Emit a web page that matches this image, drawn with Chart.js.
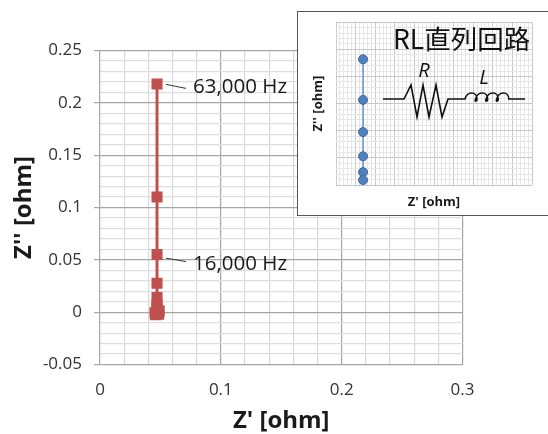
<!DOCTYPE html>
<html>
<head>
<meta charset="utf-8">
<script src="https://cdn.jsdelivr.net/npm/chart.js@4/dist/chart.umd.min.js"></script>
<style>
    html, body { margin: 0; padding: 0; background: #fff; overflow: hidden; }
    #wrap { position: relative; width: 548px; height: 434px; overflow: hidden; }
    #main-box { position: absolute; left: 0; top: 0; width: 548px; height: 434px; }
    #inset-box { position: absolute; left: 297px; top: 11px; width: 260px; height: 203px; background: #fff; border: 1.5px solid #555; box-sizing: content-box; }
    #inset-canvas-box { position: absolute; left: 0; top: 0; width: 251px; height: 203px; }
</style>
</head>
<body>
<div id="wrap">
    <div id="main-box"><canvas id="main-chart"></canvas></div>
    <div id="inset-box"><div id="inset-canvas-box"><canvas id="inset-chart"></canvas></div></div>
</div>
<script>
// measured impedance, main plot
const mainX = [0.0472, 0.0472, 0.0472, 0.0472, 0.0472, 0.0472, 0.0470, 0.0475, 0.0490, 0.0455, 0.0485, 0.0460];
const mainY = [0.218, 0.110, 0.055, 0.0277, 0.0141, 0.0072, 0.0037, 0.0020, 0.0010, -0.0005, -0.0020, -0.0025];
const mainXTicks = [0, 0.1, 0.2, 0.3];
const mainYTicks = [-0.05, 0, 0.05, 0.1, 0.15, 0.2, 0.25];
const noteIndexes = [0, 2];
const noteTexts = ['63,000 Hz', '16,000 Hz'];

// inset has no tick labels, values are only relative
const insetX = [0.138, 0.138, 0.138, 0.138, 0.138, 0.138];
const insetY = [0.1816, 0.1068, 0.0475, 0.0029, -0.0263, -0.0409];

const FONT = '"Open Sans", "Noto Sans", sans-serif';
const isMajor = (v, step) => Math.abs(v / step - Math.round(v / step)) < 1e-6;

function points(xs, ys) {
    return xs.map((x, i) => ({ x: x, y: ys[i] }));
}

// leader lines and frequency notes next to the points
const noteOffsets = [
    { lineFrom: 0.4, lineTo: 4.4, text: 3 },
    { lineFrom: 3.6, lineTo: 7, text: 9.5 }
];
const notesPlugin = {
    id: 'notes',
    afterDatasetsDraw(chart) {
        const ctx = chart.ctx;
        ctx.save();
        ctx.font = '20.5px ' + FONT;
        ctx.fillStyle = '#1a1a1a';
        ctx.textBaseline = 'middle';
        noteIndexes.forEach((idx, i) => {
            const px = chart.scales.x.getPixelForValue(mainX[idx]);
            const py = chart.scales.y.getPixelForValue(mainY[idx]);
            const off = noteOffsets[i];
            ctx.strokeStyle = '#333';
            ctx.lineWidth = 1;
            ctx.beginPath();
            ctx.moveTo(px + 9, py + off.lineFrom);
            ctx.lineTo(px + 29, py + off.lineTo);
            ctx.stroke();
            ctx.fillText(noteTexts[i], px + 36, py + off.text);
        });
        ctx.restore();
    }
};

new Chart(document.getElementById('main-chart'), {
    type: 'scatter',
    data: {
        datasets: [{
            data: points(mainX, mainY),
            showLine: true,
            borderColor: '#c0504d',
            borderWidth: 3,
            backgroundColor: '#c0504d',
            pointStyle: 'rect',
            pointRadius: 7.8,
            pointHoverRadius: 7.8,
            pointBorderWidth: 0
        }]
    },
    options: {
        responsive: true,
        maintainAspectRatio: false,
        animation: false,
        layout: { padding: { left: 0, right: 85.5, top: 50.5, bottom: 0 } },
        plugins: { legend: { display: false }, tooltip: { enabled: false } },
        scales: {
            x: {
                type: 'linear',
                min: 0,
                max: 0.3,
                afterFit(scale) { scale.height = 69.5; },
                title: {
                    display: true,
                    text: "Z' [ohm]",
                    color: '#1a1a1a',
                    font: { family: FONT, size: 24, weight: 'bold' },
                    padding: { top: 0, bottom: -2 }
                },
                border: { display: false },
                grid: {
                    drawTicks: false,
                    color: c => isMajor(c.tick.value, 0.1) ? '#a6a6a6' : '#d9d9d9',
                    lineWidth: 1.2
                },
                ticks: {
                    stepSize: 0.02,
                    autoSkip: false,
                    maxRotation: 0,
                    padding: 15,
                    color: '#333',
                    font: { family: FONT, size: 17 },
                    callback: v => {
                        const t = mainXTicks.find(m => Math.abs(m - v) < 1e-6);
                        return t === undefined ? '' : String(t);
                    }
                }
            },
            y: {
                type: 'linear',
                min: -0.05,
                max: 0.25,
                afterFit(scale) { scale.width = 100; },
                title: {
                    display: true,
                    text: "Z'' [ohm]",
                    color: '#1a1a1a',
                    font: { family: FONT, size: 24, weight: 'bold' },
                    padding: { top: 10, bottom: 0 }
                },
                border: { display: false },
                grid: {
                    tickLength: 6,
                    color: c => isMajor(c.tick.value, 0.05) ? '#a6a6a6' : '#dedede',
                    tickColor: c => isMajor(c.tick.value, 0.05) ? '#a6a6a6' : 'rgba(0,0,0,0)',
                    lineWidth: 1.2
                },
                ticks: {
                    stepSize: 0.01,
                    autoSkip: false,
                    padding: 12,
                    color: '#333',
                    font: { family: FONT, size: 17 },
                    callback: v => {
                        const t = mainYTicks.find(m => Math.abs(m - v) < 1e-6);
                        return t === undefined ? '' : String(t);
                    }
                }
            }
        }
    },
    plugins: [notesPlugin]
});

// circuit sketch and heading inside the inset, canvas pixels
const circuitPlugin = {
    id: 'circuit',
    afterDatasetsDraw(chart) {
        const ctx = chart.ctx;
        ctx.save();
        ctx.fillStyle = '#111';
        ctx.textAlign = 'left';
        ctx.textBaseline = 'middle';
        ctx.font = '26.5px "Noto Sans CJK JP", sans-serif';
        ctx.fillText('RL直列回路', 95, 27);

        ctx.textAlign = 'center';
        ctx.font = 'italic 20px ' + FONT;
        ctx.fillText('R', 126, 59);
        ctx.fillText('L', 186, 66);

        ctx.strokeStyle = '#111';
        ctx.lineWidth = 1.6;
        ctx.lineJoin = 'miter';
        ctx.beginPath();
        ctx.moveTo(85, 87);
        ctx.lineTo(106, 87);
        [[113, 73], [119, 105], [125, 73], [131, 105], [138, 73], [144, 105], [150, 87], [167, 87]]
            .forEach(p => ctx.lineTo(p[0], p[1]));
        // four coil humps
        for (let i = 0; i < 4; i++) {
            const x0 = 167 + i * 10.6;
            ctx.bezierCurveTo(x0 + 2, 79, x0 + 12, 79, x0 + 12, 87);
            if (i < 3) ctx.bezierCurveTo(x0 + 12, 90, x0 + 9, 90, x0 + 10.6, 87);
        }
        ctx.lineTo(227, 87);
        ctx.stroke();
        ctx.restore();
    }
};

new Chart(document.getElementById('inset-chart'), {
    type: 'scatter',
    data: {
        datasets: [{
            data: points(insetX, insetY),
            showLine: true,
            borderColor: '#6d97cb',
            borderWidth: 1.6,
            backgroundColor: '#4f81bd',
            pointStyle: 'circle',
            pointRadius: 4.5,
            pointHoverRadius: 4.5,
            pointBorderColor: '#3a6ba5',
            pointBorderWidth: 1
        }]
    },
    options: {
        responsive: true,
        maintainAspectRatio: false,
        animation: false,
        layout: { padding: { left: 0, right: 17, top: 8, bottom: 0 } },
        plugins: { legend: { display: false }, tooltip: { enabled: false } },
        scales: {
            x: {
                type: 'linear',
                min: 0,
                max: 1,
                afterFit(scale) { scale.height = 30; },
                title: {
                    display: true,
                    text: "Z' [ohm]",
                    color: '#1a1a1a',
                    font: { family: FONT, size: 13, weight: 'bold' },
                    padding: { top: 0, bottom: 5 }
                },
                border: { display: false },
                grid: {
                    drawTicks: false,
                    color: c => isMajor(c.tick.value, 0.1) ? '#c8c8c8' : '#e6e6e6',
                    lineWidth: 1
                },
                ticks: { stepSize: 0.02, autoSkip: false, maxRotation: 0, callback: () => '' }
            },
            y: {
                type: 'linear',
                min: -0.05,
                max: 0.25,
                afterFit(scale) { scale.width = 38; },
                title: {
                    display: true,
                    text: "Z'' [ohm]",
                    color: '#1a1a1a',
                    font: { family: FONT, size: 13, weight: 'bold' },
                    padding: { top: 12, bottom: 0 }
                },
                border: { display: false },
                grid: {
                    drawTicks: false,
                    color: c => isMajor(c.tick.value, 0.05) ? '#c8c8c8' : '#e6e6e6',
                    lineWidth: 1
                },
                ticks: { stepSize: 0.01, autoSkip: false, callback: () => '' }
            }
        }
    },
    plugins: [circuitPlugin]
});
</script>
</body>
</html>
